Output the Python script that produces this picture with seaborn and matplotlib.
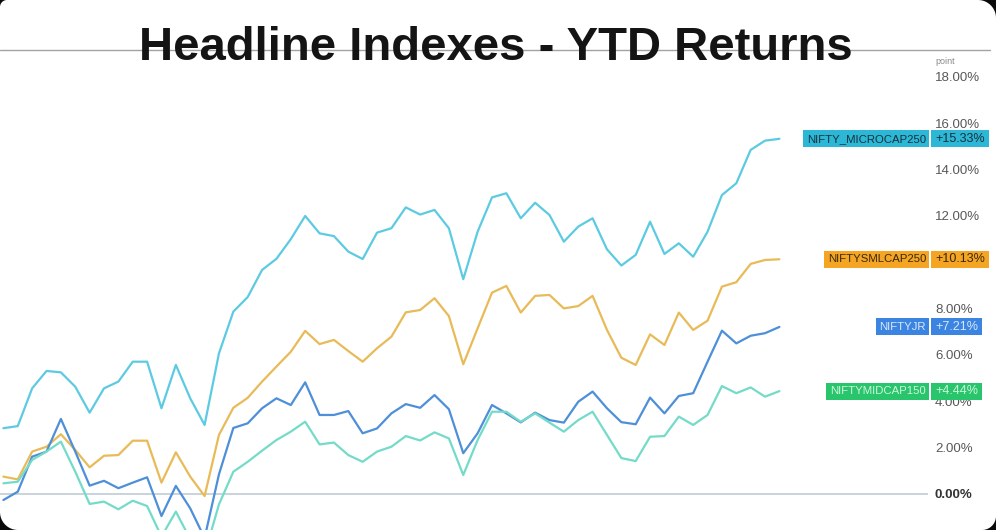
import numpy as np
import pandas as pd
import matplotlib
matplotlib.use("Agg")
import matplotlib.pyplot as plt
import matplotlib.transforms as mtransforms
from matplotlib.patches import Polygon, Rectangle
from matplotlib.lines import Line2D
import seaborn as sns

# YTD returns (%) per session
index_names = ["NIFTY_MICROCAP250", "NIFTYSMLCAP250", "NIFTYJR", "NIFTYMIDCAP150"]

microcap = [2.84, 2.93, 4.56, 5.31, 5.25, 4.63, 3.51, 4.56, 4.85, 5.71, 5.71, 3.70, 5.57, 4.13, 2.98,
            6.07, 7.87, 8.50, 9.67, 10.15, 11.00, 12.00, 11.25, 11.13, 10.46, 10.14, 11.28, 11.47, 12.37, 12.06,
            12.26, 11.47, 9.27, 11.32, 12.80, 12.98, 11.90, 12.57, 12.04, 10.89, 11.54, 11.90, 10.56, 9.86, 10.32,
            11.75, 10.36, 10.82, 10.24, 11.32, 12.90, 13.41, 14.85, 15.25, 15.33]
smallcap = [0.75, 0.63, 1.83, 2.04, 2.58, 1.90, 1.15, 1.65, 1.68, 2.30, 2.30, 0.49, 1.80, 0.75, -0.09,
            2.55, 3.72, 4.15, 4.85, 5.50, 6.14, 7.04, 6.47, 6.65, 6.17, 5.71, 6.29, 6.79, 7.84, 7.94,
            8.45, 7.68, 5.60, 7.15, 8.69, 8.98, 7.83, 8.55, 8.59, 8.01, 8.11, 8.55, 7.08, 5.88, 5.57,
            6.89, 6.43, 7.83, 7.08, 7.48, 8.95, 9.14, 9.93, 10.10, 10.13]
niftyjr = [-0.26, 0.10, 1.61, 1.83, 3.24, 1.83, 0.36, 0.57, 0.25, 0.49, 0.72, -0.95, 0.35, -0.62, -1.90,
           0.85, 2.85, 3.05, 3.70, 4.13, 3.84, 4.82, 3.41, 3.41, 3.58, 2.62, 2.83, 3.48, 3.88, 3.72,
           4.27, 3.66, 1.76, 2.62, 3.84, 3.48, 3.09, 3.51, 3.19, 3.08, 3.98, 4.42, 3.70, 3.10, 3.01,
           4.16, 3.48, 4.23, 4.35, 5.71, 7.05, 6.50, 6.83, 6.94, 7.21]
midcap = [0.46, 0.53, 1.47, 1.83, 2.26, 0.96, -0.43, -0.33, -0.66, -0.29, -0.52, -1.84, -0.76, -1.95, -2.60,
          -0.45, 0.96, 1.39, 1.87, 2.33, 2.69, 3.12, 2.14, 2.22, 1.68, 1.39, 1.83, 2.04, 2.50, 2.31,
          2.66, 2.40, 0.82, 2.33, 3.55, 3.55, 3.12, 3.48, 3.08, 2.69, 3.19, 3.55, 2.55, 1.55, 1.42,
          2.47, 2.50, 3.34, 2.98, 3.41, 4.66, 4.35, 4.60, 4.20, 4.44]

# 10.00% sits fully behind the small-cap label in the reference, so it is not listed
yticks = [0, 2, 4, 6, 8, 12, 14, 16, 18]

line_colors = {"NIFTY_MICROCAP250": "#5ccbe2", "NIFTYSMLCAP250": "#e8bb58",
               "NIFTYJR": "#4d8fd8", "NIFTYMIDCAP150": "#74dbc9"}
box_colors = {"NIFTY_MICROCAP250": ("#2cb7d6", "#17313b"), "NIFTYSMLCAP250": ("#f5a524", "#3a2708"),
              "NIFTYJR": ("#3b84e2", "#d9e8fb"), "NIFTYMIDCAP150": ("#29c56c", "#cdf6dc")}

series = [microcap, smallcap, niftyjr, midcap]
df = pd.concat([pd.DataFrame({"day": np.arange(len(v)), "ret": v, "index": n})
                for n, v in zip(index_names, series)], ignore_index=True)

W, H = 996, 530
sns.set_style("white")
plt.rcParams["font.family"] = ["Liberation Sans", "DejaVu Sans"]

fig = plt.figure(figsize=(W / 100, H / 100), dpi=100)
fig.patch.set_facecolor("white")
ax = fig.add_axes([0, 0, 928 / W, 1])
ax.patch.set_visible(False)

sns.lineplot(data=df, x="day", y="ret", hue="index", hue_order=index_names, palette=line_colors,
             linewidth=1.6, legend=False, estimator=None, sort=False, ax=ax, zorder=3)

ax.set_xlim(-0.237, 64.34)
ax.set_ylim(-1.554, 21.32)
ax.axhline(0, color="#c6cfd9", lw=1.3, zorder=1)
for s in ax.spines.values():
    s.set_visible(False)
ax.set_xticks([])
ax.set_xlabel("")
ax.set_ylabel("")
ax.yaxis.tick_right()
ax.set_yticks(yticks)
ax.set_yticklabels([f"{t:.2f}%" for t in yticks])
ax.tick_params(axis="y", length=0, pad=5, labelsize=9.5, labelcolor="#585858")
zero_lbl = ax.get_yticklabels()[0]
zero_lbl.set_fontweight("bold")
zero_lbl.set_color("#333333")

# end-of-line label boxes: text first, then boxes sized around the text in pixels
trans = mtransforms.blended_transform_factory(fig.transFigure, ax.transData)
labels = []
for name, vals in zip(index_names, series):
    fc, tc = box_colors[name]
    last = vals[-1]
    t1 = ax.text(926 / W, last, name, transform=trans, ha="right", va="center", fontsize=8.2,
                 color=tc, zorder=7, clip_on=False)
    t2 = ax.text(935 / W, last, f"+{last:.2f}%", transform=trans, ha="left", va="center",
                 fontsize=9, color=tc, zorder=7, clip_on=False)
    labels.append((t1, t2, fc, last))

fig.canvas.draw()
px = mtransforms.IdentityTransform()
for t1, t2, fc, last in labels:
    yc = ax.transData.transform((0, last))[1]
    e1 = t1.get_window_extent()
    e2 = t2.get_window_extent()
    x0 = e1.x0 - 4
    ax.add_artist(Rectangle((x0, yc - 8.5), 929 - x0, 17, transform=px, fc=fc, ec="none",
                            zorder=6, clip_on=False))
    ax.add_artist(Rectangle((930.5, yc - 8.5), e2.x1 + 4 - 930.5, 17, transform=px, fc=fc,
                            ec="none", zorder=6, clip_on=False))

fig.text(935 / W, 1 - 62 / H, "point", fontsize=6.5, color="#8a8a8a", va="center")

# header rule and title
fig.add_artist(Line2D([0, 990 / W], [1 - 50 / H] * 2, color="#a3a3a3", lw=1.0, zorder=1))
fig.text(496 / W, 1 - 59.5 / H, "Headline Indexes - YTD Returns", ha="center", va="baseline",
         fontsize=34, fontweight="bold", color="#141414", zorder=10)


# dark rounded corners of the screenshot
def corner(cx, cy, r, dx, dy):
    t = np.linspace(0, np.pi / 2, 20)
    ox, oy = cx - dx * r, cy - dy * r
    pts = [(cx, cy)] + [(ox + dx * r * np.cos(a), oy + dy * r * np.sin(a)) for a in t]
    pts = [(x / W, 1 - y / H) for x, y in pts]
    fig.add_artist(Polygon(pts, closed=True, fc="#0a0a0a", ec="none", zorder=20,
                           transform=fig.transFigure))


corner(W, 0, 18, 1, -1)
corner(W, H, 14, 1, 1)
corner(0, H, 18, -1, 1)
corner(0, 0, 7, -1, -1)

fig.savefig("out.png", dpi=100)
